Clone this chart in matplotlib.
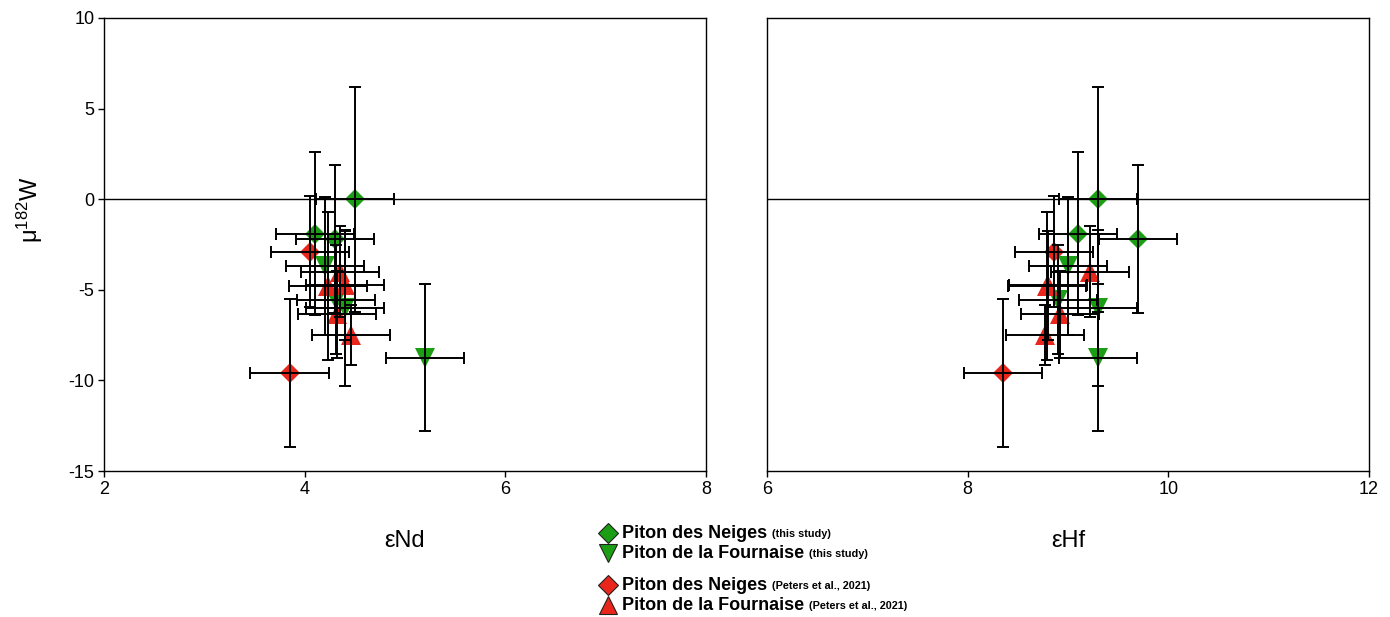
import matplotlib
matplotlib.use("Agg")
import matplotlib.pyplot as plt

plt.rcParams['font.family'] = ['Liberation Sans', 'DejaVu Sans']
plt.rcParams['axes.unicode_minus'] = False
plt.rcParams['mathtext.default'] = 'regular'

# ---- data ----
# Piton des Neiges (this study)
pdn_ts_nd = [4.5, 4.1, 4.3]
pdn_ts_hf = [9.3, 9.1, 9.7]
pdn_ts_w = [0.0, -1.9, -2.2]
pdn_ts_werr = [6.2, 4.5, 4.1]

# Piton de la Fournaise (this study)
pdf_ts_nd = [4.2, 4.31, 4.4, 5.2]
pdf_ts_hf = [9.0, 8.9, 9.3, 9.3]
pdf_ts_w = [-3.7, -5.55, -6.0, -8.75]
pdf_ts_werr = [3.8, 3.0, 4.3, 4.05]

# Piton des Neiges (Peters et al., 2021)
pdn_p_nd = [4.05, 3.85]
pdn_p_hf = [8.86, 8.35]
pdn_p_w = [-2.9, -9.6]
pdn_p_werr = [3.05, 4.1]

# Piton de la Fournaise (Peters et al., 2021)
pdf_p_nd = [4.35, 4.23, 4.40, 4.32, 4.46]
pdf_p_hf = [9.22, 8.79, 8.80, 8.92, 8.77]
pdf_p_w = [-4.0, -4.8, -4.75, -6.35, -7.5]
pdf_p_werr = [2.5, 4.1, 3.0, 2.4, 1.66]

nd_err = 0.39
hf_err = 0.39

x_ticks_nd = [2, 4, 6, 8]
x_ticks_hf = [6, 8, 10, 12]
y_ticks = [-15, -10, -5, 0, 5, 10]

GREEN = '#1c9e14'
RED = '#e8261c'

W, H = 1390, 617
fig = plt.figure(figsize=(W / 100, H / 100), dpi=100)

def px_ax(l, r, t, b):
    return fig.add_axes([l / W, 1 - b / H, (r - l) / W, (b - t) / H])

axL = px_ax(104, 706, 18, 471)
axR = px_ax(767, 1369, 18, 471)

groups = [
    (pdn_ts_nd, pdn_ts_hf, pdn_ts_w, pdn_ts_werr, 'D', GREEN, 10),
    (pdf_ts_nd, pdf_ts_hf, pdf_ts_w, pdf_ts_werr, 'v', GREEN, 14),
    (pdn_p_nd, pdn_p_hf, pdn_p_w, pdn_p_werr, 'D', RED, 10),
    (pdf_p_nd, pdf_p_hf, pdf_p_w, pdf_p_werr, '^', RED, 14),
]

for ax, idx, xe in ((axL, 0, nd_err), (axR, 1, hf_err)):
    ax.axhline(0, color='black', lw=1.0, zorder=1)
    for g in groups:
        xs = g[idx]
        ax.plot(xs, g[2], linestyle='none', marker=g[4], color=g[5],
                markersize=g[6], markeredgewidth=0, zorder=2)
        ax.errorbar(xs, g[2], xerr=xe, yerr=g[3], fmt='none', ecolor='black',
                    elinewidth=1.4, capsize=4, capthick=1.4, zorder=3)
    ax.set_ylim(-15, 10)
    ax.set_yticks(y_ticks)
    for s in ax.spines.values():
        s.set_linewidth(1.0)
        s.set_color('black')
    ax.tick_params(axis='both', labelsize=13, length=4, width=1, direction='out', pad=3)

axL.set_xlim(2, 8)
axL.set_xticks(x_ticks_nd)
axR.set_xlim(6, 12)
axR.set_xticks(x_ticks_hf)
axR.tick_params(axis='y', left=False, labelleft=False)

fig.text(405 / W, 1 - 541 / H, 'εNd', fontsize=17, ha='center', va='center')
fig.text(1068 / W, 1 - 541 / H, 'εHf', fontsize=17, ha='center', va='center')
fig.text(30 / W, 1 - 210 / H, r'μ$^{182}$W', fontsize=17, ha='center', va='center',
         rotation=90)

# ---- legend ----
legend_items = [
    ('D', GREEN, 10, 533, 'Piton des Neiges', '(this study)'),
    ('v', GREEN, 13, 553, 'Piton de la Fournaise', '(this study)'),
    ('D', RED, 10, 585, 'Piton des Neiges', '(Peters et al., 2021)'),
    ('^', RED, 13, 605, 'Piton de la Fournaise', '(Peters et al., 2021)'),
]
lax = fig.add_axes([0, 0, 1, 1])
lax.set_xlim(0, W)
lax.set_ylim(H, 0)
lax.axis('off')
renderer = fig.canvas.get_renderer()
for m, c, ms, y, big, small in legend_items:
    lax.plot([608], [y], marker=m, color=c, markersize=ms, markeredgecolor='#222222',
             markeredgewidth=0.8, linestyle='none')
    t = lax.text(622, y, big, fontsize=13, fontweight='bold', ha='left', va='center')
    bb = t.get_window_extent(renderer=renderer)
    lax.text(bb.x1 + 5, y + 1, small, fontsize=7.8, fontweight='bold', ha='left', va='center')

fig.savefig('out.png', dpi=100)
